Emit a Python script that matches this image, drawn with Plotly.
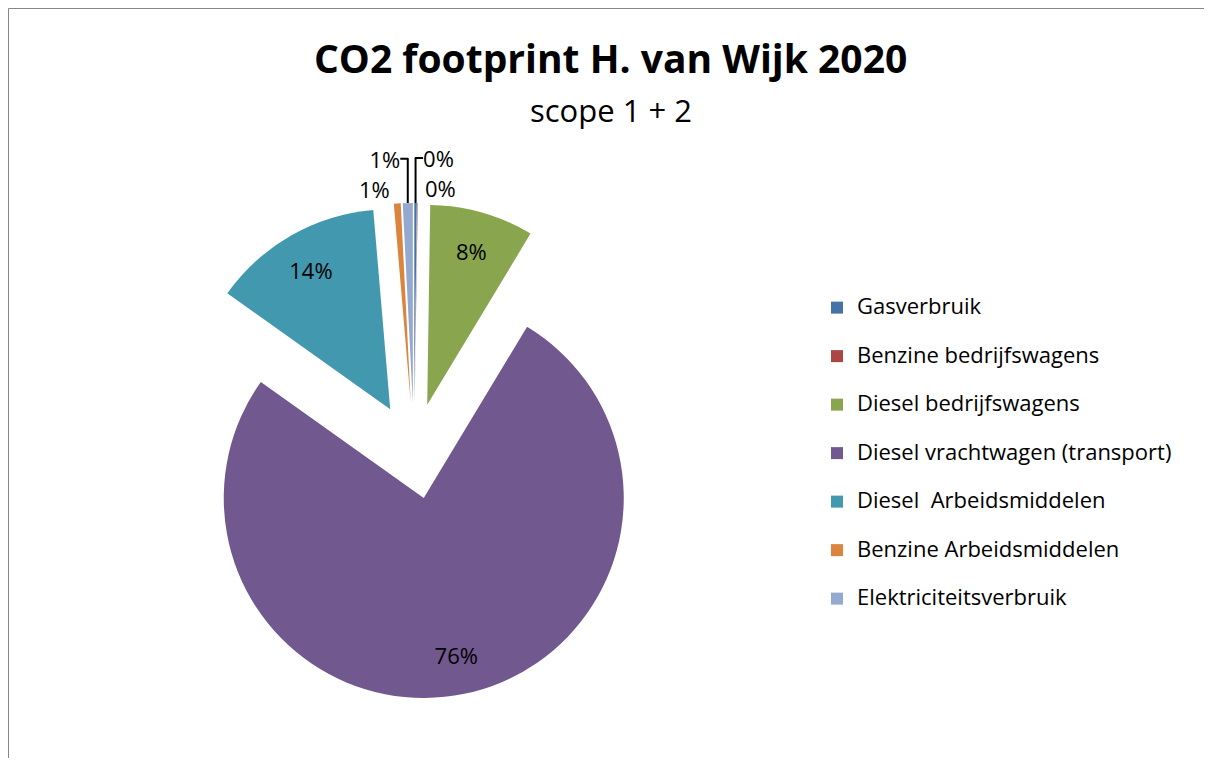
import plotly.graph_objects as go

# ---- data ----
categories = ["Gasverbruik", "Benzine bedrijfswagens", "Diesel bedrijfswagens",
              "Diesel vrachtwagen (transport)", "Diesel  Arbeidsmiddelen",
              "Benzine Arbeidsmiddelen", "Elektriciteitsverbruik"]
values = [0.2, 0.04, 8.4, 76.2, 13.8, 0.55, 0.8]   # share in %
colors = ["#4572A7", "#AA4643", "#89A54E", "#71588F", "#4198AF", "#DB843D", "#93A9CF"]
text_positions = ["outside", "outside", "inside", "inside", "inside", "outside", "outside"]
title_text = "CO2 footprint H. van Wijk 2020"
subtitle_text = "scope 1 + 2"

# figure size = window minus the 8px default body margin on each side
W, H = 1196, 750
FONT = "'Open Sans', 'Noto Sans', sans-serif"

# legend labels: keep text, add an empty line for Excel-like item spacing
legend_labels = [
    '\u00a0<br><span style="font-size:22px">' + c.replace("  ", "\u00a0 ") + '</span>'
    for c in categories
]

# pie placement (figure pixels)
cx, cy, rad, pull = 406, 443, 200, 0.24
half = rad * (1 + pull)
domain = dict(x=[(cx - half) / W, (cx + half) / W],
              y=[(H - cy - half) / H, (H - cy + half) / H])

common = dict(labels=legend_labels, values=values, sort=False,
              direction="clockwise", rotation=0, pull=pull, domain=domain)

fig = go.Figure()
# visible slices
fig.add_trace(go.Pie(
    **common,
    marker=dict(colors=colors, line=dict(width=0)),
    textinfo="none",
    hovertemplate="%{label}: %{value}<extra></extra>",
))
# transparent ring carrying the percentage labels (places them at ~0.8 r like Excel)
fig.add_trace(go.Pie(
    **common,
    hole=0.6,
    marker=dict(colors=["rgba(0,0,0,0)"] * len(values), line=dict(width=0)),
    texttemplate="%{percent:.0%}",
    textposition=text_positions,
    insidetextorientation="horizontal",
    insidetextfont=dict(family=FONT, size=22, color="black"),
    outsidetextfont=dict(family=FONT, size=21, color="black"),
    showlegend=False,
    hoverinfo="skip",
))

fig.update_layout(
    width=W, height=H,
    margin=dict(l=0, r=0, t=0, b=0, autoexpand=False),
    paper_bgcolor="white",
    font=dict(family=FONT, color="black"),
    showlegend=True,
    uniformtext=dict(minsize=22, mode="show"),
    legend=dict(
        x=809 / W, xanchor="left",
        y=(H - 434) / H, yanchor="middle",
        font=dict(family=FONT, size=17.5, color="black"),
        valign="bottom",
        bgcolor="rgba(0,0,0,0)",
    ),
    annotations=[
        dict(text="<b>" + title_text + "</b>", x=602.5 / W, y=(H - 50) / H,
             xref="paper", yref="paper", showarrow=False,
             xanchor="center", yanchor="middle",
             font=dict(family=FONT, size=39, color="black")),
        dict(text=subtitle_text, x=602.5 / W, y=(H - 102) / H,
             xref="paper", yref="paper", showarrow=False,
             xanchor="center", yanchor="middle",
             font=dict(family=FONT, size=31, color="black")),
    ],
    shapes=[
        dict(type="rect", xref="paper", yref="paper",
             x0=0.5 / W, x1=1.05, y0=-0.05, y1=(H - 0.5) / H,
             line=dict(color="#868686", width=1), fillcolor="rgba(0,0,0,0)",
             layer="below"),
    ],
)

fig.write_html("out.html")
